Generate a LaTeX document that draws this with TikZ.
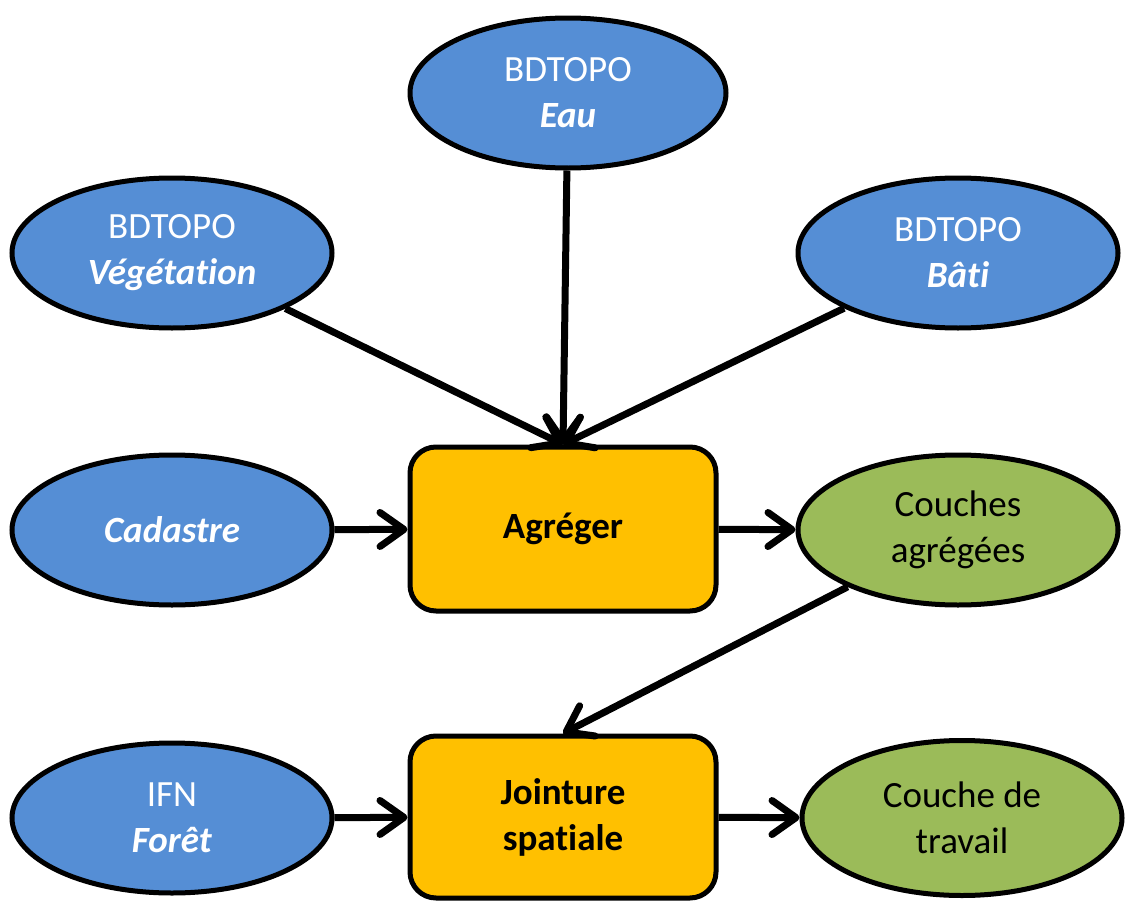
\documentclass[tikz,border=0pt]{standalone}
\usepackage{fontspec}
\setmainfont{Carlito}[Ligatures=NoCommon]
\usetikzlibrary{shapes.geometric,arrows.meta}
\definecolor{srcblue}{HTML}{558ED5}
\definecolor{stepyellow}{HTML}{FFC000}
\definecolor{outgreen}{HTML}{9BBB59}
\begin{document}
\begin{tikzpicture}[x=1pt,y=-1pt]
    \tikzset{every node/.style={font=\fontsize{37}{46}\selectfont, align=center},
        src/.style={ellipse, draw, line width=5pt, fill=srcblue, text=white,
            minimum width=320pt, minimum height=150pt, inner sep=0pt},
        res/.style={src, fill=outgreen, text=black},
        stepbox/.style={rectangle, rounded corners=26pt, draw, line width=5pt,
            fill=stepyellow, minimum width=306pt, minimum height=164pt, font=\fontsize{37}{46}\selectfont\bfseries},
        arr/.style={line width=7pt, -{Straight Barb[length=24pt, width=34pt, line width=7pt, line cap=round, round]}}}
    \useasboundingbox (0,0) rectangle (1128,902);
    % sources
    \node[src, minimum width=316pt] (eau) at (568,93) {BDTOPO\\\textbf{\textit{Eau}}};
    \node[src] (veg) at (172,253) {BDTOPO\\\textbf{\textit{Végétation}}};
    \node[src] (bati) at (958,253) {BDTOPO\\\textbf{\textit{Bâti}}};
    \node[src] (cad) at (172,530) {\textbf{\textit{Cadastre}}};
    \node[src] (ifn) at (172,818) {IFN\\\textbf{\textit{Forêt}}};
    % steps
    \node[stepbox] (agr) at (563,529) {Agréger};
    \node[stepbox, minimum height=162pt] (jnt) at (563,817) {Jointure\\spatiale};
    % results
    \node[res] (couches) at (958,530) {Couches\\agrégées};
    \node[res, minimum height=155pt] (travail) at (962,818) {Couche de\\travail};
    % flows
    \draw[arr] (eau) -- (agr.north);
    \draw[arr] (veg) -- (agr.north);
    \draw[arr] (bati) -- (agr.north);
    \draw[arr] (cad) -- (agr);
    \draw[arr] (agr) -- (couches);
    \draw[arr] (couches) -- (jnt.north);
    \draw[arr] (ifn) -- (jnt);
    \draw[arr] (jnt) -- (travail);
\end{tikzpicture}
\end{document}
